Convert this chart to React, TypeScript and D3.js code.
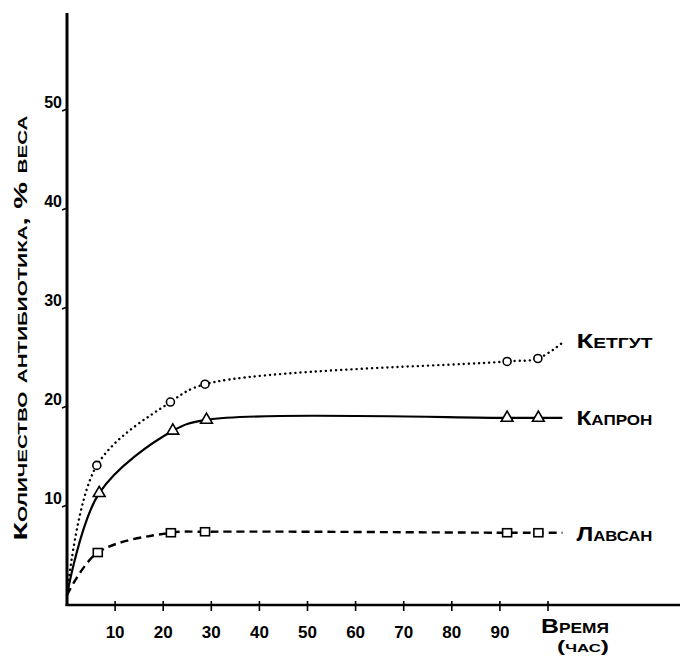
import React from "react";
import * as d3 from "d3";

const xTicks = [10, 20, 30, 40, 50, 60, 70, 80, 90];
const yTicks = [10, 20, 30, 40, 50];

const lineStart: [number, number] = [0, 1];

const ketgutHours = [6.2, 21.5, 28.7, 91.5, 97.9];
const ketgutValues = [14.1, 20.5, 22.3, 24.6, 24.9];
const ketgutEnd: [number, number] = [103, 26.5];

const kapronHours = [6.7, 22, 29, 91.5, 98];
const kapronValues = [11.3, 17.6, 18.7, 18.9, 18.9];
const kapronEnd: [number, number] = [103, 18.9];

const lavsanHours = [6.4, 21.6, 28.7, 91.5, 98];
const lavsanValues = [5.3, 7.3, 7.4, 7.3, 7.3];
const lavsanEnd: [number, number] = [103, 7.3];

const seriesLabels = ["Кетгут", "Капрон", "Лавсан"];
const yTitle = "Количество антибиотика, % веса";
const xTitle = "Время";
const xUnit = "(час)";

const W = 680;
const H = 658;
const x = d3.scaleLinear().domain([0, 100]).range([67, 548]);
const y = d3.scaleLinear().domain([0, 50]).range([605, 110]);

const line = d3
  .line<[number, number]>()
  .x((d) => x(d[0]))
  .y((d) => y(d[1]))
  .curve(d3.curveCatmullRom.alpha(0.5));

function pts(h: number[], v: number[], end: [number, number]): [number, number][] {
  return [lineStart, ...h.map((t, i) => [t, v[i]] as [number, number]), end];
}

const FONT = "'Liberation Sans', 'DejaVu Sans', sans-serif";

export default function App() {
  const kp = pts(ketgutHours, ketgutValues, ketgutEnd);
  const cp = pts(kapronHours, kapronValues, kapronEnd);
  const lp = pts(lavsanHours, lavsanValues, lavsanEnd);
  const tri = d3.symbol().type(d3.symbolTriangle).size(60)();
  return (
    <svg
      width={W}
      height={H}
      style={{ position: "absolute", left: 0, top: 0, background: "#fff" }}
      fontFamily={FONT}
    >
      <rect width={W} height={H} fill="#fff" />
      {/* axes */}
      <line x1={x(0)} y1={13} x2={x(0)} y2={y(0) + 1} stroke="#000" strokeWidth={3} />
      <line x1={x(0) - 1.5} y1={y(0)} x2={680} y2={y(0)} stroke="#000" strokeWidth={2.5} />
      {xTicks.concat([100]).map((t) => (
        <line key={"xt" + t} x1={x(t)} x2={x(t)} y1={y(0) - 4} y2={y(0) + 6} stroke="#000" strokeWidth={1.6} />
      ))}
      {xTicks.map((t) => (
        <text key={"xl" + t} x={x(t)} y={638} textAnchor="middle" fontSize={17} fontWeight="bold">
          {t}
        </text>
      ))}
      <text
        x={575}
        y={633}
        textAnchor="middle"
        fontSize={20}
        fontWeight="bold"
        textLength={68}
        lengthAdjust="spacingAndGlyphs"
        style={{ fontVariant: "small-caps" }}
      >
        {xTitle}
      </text>
      <text
        x={583}
        y={652}
        textAnchor="middle"
        fontSize={16}
        fontWeight="bold"
        textLength={52}
        lengthAdjust="spacingAndGlyphs"
        style={{ fontVariant: "small-caps" }}
      >
        {xUnit}
      </text>
      {yTicks.map((t) => (
        <g key={"yt" + t}>
          <line x1={x(0) - 5} x2={x(0)} y1={y(t) + 1} y2={y(t) - 1} stroke="#000" strokeWidth={1.6} />
          <text x={x(0) - 5} y={y(t) - 2} textAnchor="end" fontSize={16} fontWeight="bold">
            {t}
          </text>
        </g>
      ))}
      <text
        transform={`translate(27, 328) rotate(-90)`}
        textAnchor="middle"
        fontSize={19}
        fontWeight="bold"
        textLength={425}
        lengthAdjust="spacingAndGlyphs"
        style={{ fontVariant: "small-caps" }}
      >
        {yTitle}
      </text>

      {/* series lines */}
      <path d={line(kp) || ""} fill="none" stroke="#000" strokeWidth={2.4} strokeDasharray="0.1 5" strokeLinecap="round" />
      <path d={line(cp) || ""} fill="none" stroke="#000" strokeWidth={2.2} />
      <path d={line(lp) || ""} fill="none" stroke="#000" strokeWidth={2.4} strokeDasharray="8 5" />

      {/* markers */}
      {ketgutHours.map((t, i) => (
        <circle key={"kc" + i} cx={x(t)} cy={y(ketgutValues[i])} r={4} fill="#fff" stroke="#000" strokeWidth={1.6} />
      ))}
      {kapronHours.map((t, i) => (
        <path
          key={"cp" + i}
          d={tri || ""}
          transform={`translate(${x(t)}, ${y(kapronValues[i])})`}
          fill="#fff"
          stroke="#000"
          strokeWidth={1.6}
        />
      ))}
      {lavsanHours.map((t, i) => (
        <rect
          key={"lr" + i}
          x={x(t) - 4.5}
          y={y(lavsanValues[i]) - 4}
          width={9}
          height={8}
          fill="#fff"
          stroke="#000"
          strokeWidth={1.6}
        />
      ))}

      {/* series labels */}
      {[ketgutEnd, kapronEnd, lavsanEnd].map((e, i) => (
        <text
          key={"sl" + i}
          x={x(e[0]) + 14}
          y={y(e[1]) + [5, 7, 8][i]}
          fontSize={20}
          fontWeight="bold"
          textLength={76}
          lengthAdjust="spacingAndGlyphs"
          style={{ fontVariant: "small-caps" }}
        >
          {seriesLabels[i]}
        </text>
      ))}
    </svg>
  );
}
